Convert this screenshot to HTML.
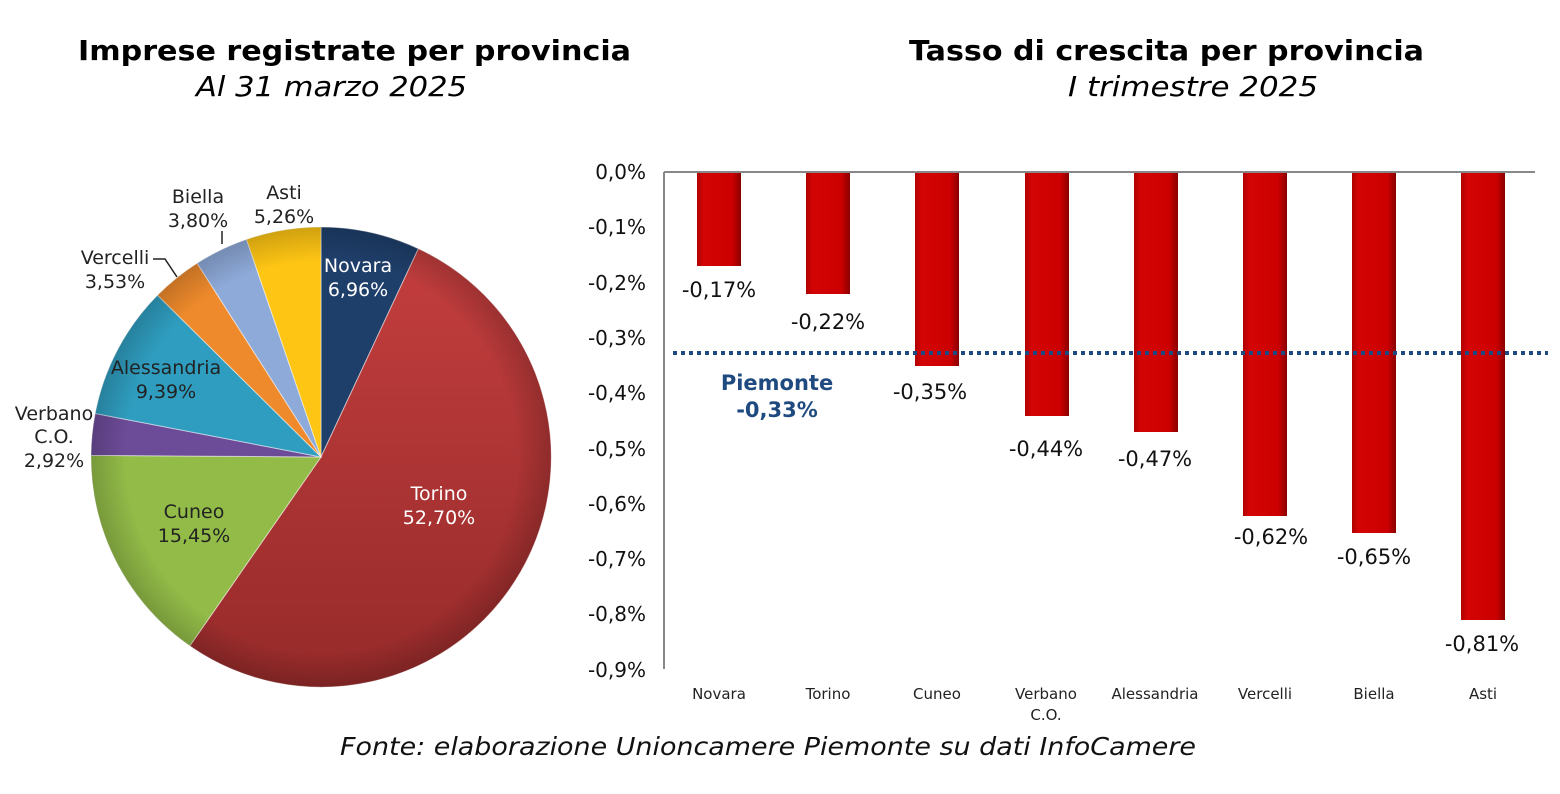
<!DOCTYPE html>
<html><head><meta charset="utf-8"><style>
html,body{margin:0;padding:0;background:#fff;}
svg{display:block;}
</style></head><body>
<svg width="1560" height="794" viewBox="0 0 1560 794" xmlns="http://www.w3.org/2000/svg" font-family="DejaVu Sans, Liberation Sans, sans-serif">
<defs>
<linearGradient id="bar" x1="0" x2="1" y1="0" y2="0">
<stop offset="0" stop-color="#b00000"/><stop offset="0.15" stop-color="#d40404"/><stop offset="0.8" stop-color="#cc0000"/><stop offset="1" stop-color="#8a0000"/>
</linearGradient>
<radialGradient id="shade" cx="321" cy="457" r="230" gradientUnits="userSpaceOnUse">
<stop offset="0.85" stop-color="#000" stop-opacity="0"/><stop offset="1" stop-color="#000" stop-opacity="0.18"/>
</radialGradient>
<linearGradient id="tor" x1="0" y1="0" x2="0" y2="1"><stop offset="0" stop-color="#c43e3e"/><stop offset="1" stop-color="#962a2a"/></linearGradient>
</defs>
<text x="78" y="60" font-size="28" font-weight="bold" textLength="553" lengthAdjust="spacingAndGlyphs">Imprese registrate per provincia</text>
<text x="196" y="96" font-size="28" font-style="italic" textLength="271" lengthAdjust="spacingAndGlyphs">Al 31 marzo 2025</text>
<text x="909" y="60" font-size="28" font-weight="bold" textLength="515" lengthAdjust="spacingAndGlyphs">Tasso di crescita per provincia</text>
<text x="1068" y="96" font-size="28" font-style="italic" textLength="250" lengthAdjust="spacingAndGlyphs">I trimestre 2025</text>

<g stroke="#fff" stroke-opacity="0.5" stroke-width="1">
<path d="M321 457 L321 227 A230 230 0 0 1 418.4 248.7 Z" fill="#1f3f6b"/>
<path d="M321 457 L418.4 248.7 A230 230 0 1 1 189.8 645.9 Z" fill="url(#tor)"/>
<path d="M321 457 L189.8 645.9 A230 230 0 0 1 91 455.4 Z" fill="#92bb48"/>
<path d="M321 457 L91 455.4 A230 230 0 0 1 95.2 413.5 Z" fill="#6c4b98"/>
<path d="M321 457 L95.2 413.5 A230 230 0 0 1 157.5 295.2 Z" fill="#2f9dbf"/>
<path d="M321 457 L157.5 295.2 A230 230 0 0 1 197.1 263.2 Z" fill="#ee8a2c"/>
<path d="M321 457 L197.1 263.2 A230 230 0 0 1 246.5 239.4 Z" fill="#8eaad9"/>
<path d="M321 457 L246.5 239.4 A230 230 0 0 1 321 227 Z" fill="#fec514"/>
</g>
<circle cx="321" cy="457" r="230" fill="url(#shade)"/>
<g font-size="19" text-anchor="middle" fill="#222">
<text x="358" y="272" fill="#fff">Novara</text><text x="358" y="296" fill="#fff">6,96%</text>
<text x="439" y="500" fill="#fff">Torino</text><text x="439" y="524" fill="#fff">52,70%</text>
<text x="194" y="518">Cuneo</text><text x="194" y="542">15,45%</text>
<text x="166" y="374">Alessandria</text><text x="166" y="398">9,39%</text>
<text x="54" y="420">Verbano</text><text x="54" y="443">C.O.</text><text x="54" y="467">2,92%</text>
<text x="115" y="264">Vercelli</text><text x="115" y="288">3,53%</text>
<text x="198" y="203">Biella</text><text x="198" y="227">3,80%</text>
<text x="284" y="199">Asti</text><text x="284" y="223">5,26%</text>
</g>
<path d="M153 259 L165 259 L177 277" stroke="#222" fill="none" stroke-width="1.5"/>
<path d="M222 231 L222 244" stroke="#222" fill="none" stroke-width="1.5"/>

<line x1="664" y1="172" x2="1535" y2="172" stroke="#888" stroke-width="2"/>
<line x1="664" y1="172" x2="664" y2="669" stroke="#888" stroke-width="2"/>
<g font-size="20" text-anchor="end" fill="#111">
<text x="646" y="179">0,0%</text><text x="646" y="234">-0,1%</text><text x="646" y="290">-0,2%</text>
<text x="646" y="345">-0,3%</text><text x="646" y="400">-0,4%</text><text x="646" y="456">-0,5%</text>
<text x="646" y="511">-0,6%</text><text x="646" y="566">-0,7%</text><text x="646" y="621">-0,8%</text>
<text x="646" y="677">-0,9%</text>
</g>
<g fill="url(#bar)">
<rect x="697" y="173" width="44" height="93"/>
<rect x="806" y="173" width="44" height="121"/>
<rect x="915" y="173" width="44" height="193"/>
<rect x="1025" y="173" width="44" height="243"/>
<rect x="1134" y="173" width="44" height="259"/>
<rect x="1243" y="173" width="44" height="343"/>
<rect x="1352" y="173" width="44" height="360"/>
<rect x="1461" y="173" width="44" height="447"/>
</g>
<line x1="673" y1="353" x2="1548" y2="353" stroke="#1f4a80" stroke-width="4" stroke-dasharray="4 4"/>
<text x="777" y="390" font-size="21" font-weight="bold" fill="#1f4a80" text-anchor="middle">Piemonte</text>
<text x="777" y="417" font-size="21" font-weight="bold" fill="#1f4a80" text-anchor="middle">-0,33%</text>
<g font-size="21" text-anchor="middle" fill="#111">
<text x="719" y="297">-0,17%</text><text x="828" y="329">-0,22%</text><text x="930" y="399">-0,35%</text>
<text x="1046" y="456">-0,44%</text><text x="1155" y="466">-0,47%</text><text x="1271" y="544">-0,62%</text>
<text x="1374" y="564">-0,65%</text><text x="1482" y="651">-0,81%</text>
</g>
<g font-size="15" text-anchor="middle" fill="#222">
<text x="719" y="699">Novara</text><text x="828" y="699">Torino</text><text x="937" y="699">Cuneo</text>
<text x="1046" y="699">Verbano</text><text x="1046" y="720">C.O.</text><text x="1155" y="699">Alessandria</text>
<text x="1265" y="699">Vercelli</text><text x="1374" y="699">Biella</text><text x="1483" y="699">Asti</text>
</g>
<text x="340" y="755" font-size="25" font-style="italic" fill="#111" textLength="856" lengthAdjust="spacingAndGlyphs">Fonte: elaborazione Unioncamere Piemonte su dati InfoCamere</text>
</svg>
</body></html>
